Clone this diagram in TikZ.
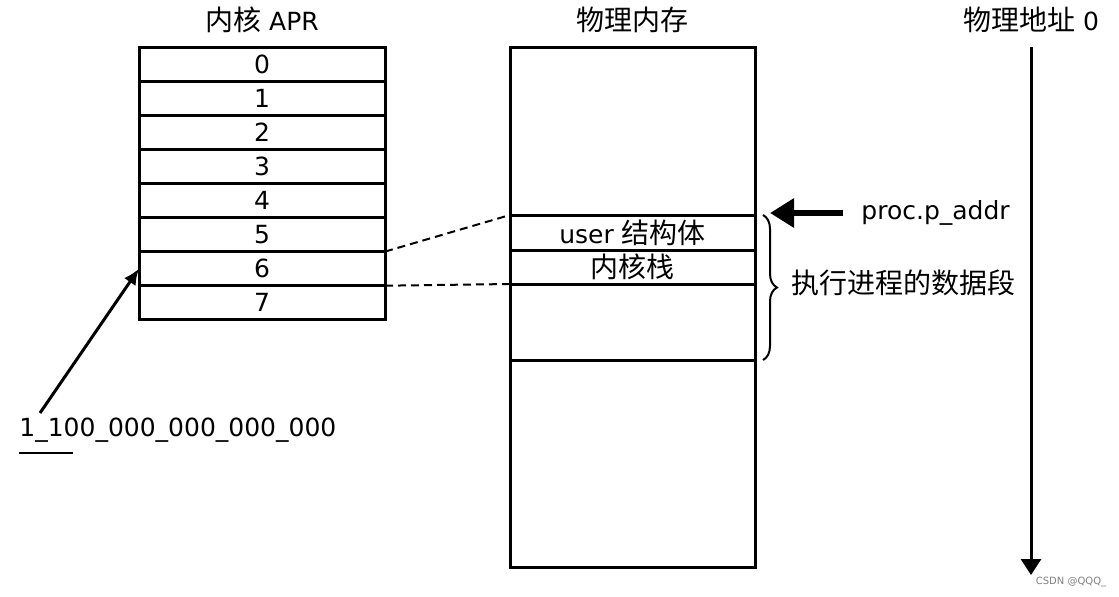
\documentclass[tikz,border=0pt]{standalone}
\usepackage{fontspec}
\setmainfont{DejaVu Sans}
\newfontfamily\cjk[Scale=1.12]{Noto Sans CJK SC}
\usetikzlibrary{arrows.meta,decorations.pathreplacing}

\begin{document}
\begin{tikzpicture}[x=0.5pt,y=-0.5pt,
    txt/.style={font=\fontsize{12.5}{14}\selectfont, inner sep=0pt},
    cell/.style={draw, line width=1.5pt, inner sep=0pt, outer sep=0pt,
                 minimum width=123pt, font=\fontsize{12.5}{14}\selectfont},
    link/.style={line width=1pt, dash pattern=on 4pt off 2.5pt}]
            \useasboundingbox (0,0) rectangle (1119,596);

            %Titles
            \node[txt] (aprtitle) at (262,20) {{\cjk 内核} APR};
            \node[txt] (memtitle) at (632,20) {\cjk 物理内存};
            \node[txt] (addr) at (1031,20) {{\cjk 物理地址} 0};

            %APR rows
            \foreach \i in {0,...,7}
                \node[cell, minimum height=17.05pt] (apr\i) at (262,{64.05+34.1*\i}) {\i};

            %Memory
            \node[cell, minimum width=122.5pt, minimum height=84pt] (memtop) at (632.5,131) {};
            \node[cell, minimum width=122.5pt, minimum height=17.5pt] (user) at (632.5,232.5) {user {\cjk 结构体}};
            \node[cell, minimum width=122.5pt, minimum height=17pt] (stack) at (632.5,267) {\cjk 内核栈};
            \node[cell, minimum width=122.5pt, minimum height=38pt] (data) at (632.5,322) {};
            \node[cell, minimum width=122.5pt, minimum height=103.5pt] (rest) at (632.5,463.5) {};

            %Labels
            \node[txt, anchor=west] (proc) at (861,213) {proc.p\_addr};
            \node[txt, anchor=west] (seg) at (791,283) {\cjk 执行进程的数据段};
            \node[txt, anchor=west] (bits) at (19,430) {1\_100\_000\_000\_000\_000};
            \node[inner sep=0pt, font=\fontsize{5}{6}\selectfont, text=gray] (mark) at (1071,582) {CSDN @QQQ\_};
            \coordinate (uaddr) at (770,213);
            \coordinate (addrend) at (1031,575);
            \coordinate (bitsarrow) at (40,413);

            %Lines
            \draw[link] (apr5.south east) -- (user.north west);
            \draw[link] (apr6.south east) -- (stack.south west);
            \draw[decorate, decoration={brace, amplitude=7pt}, line width=1pt]
                ([xshift=4pt]user.north east) -- ([xshift=4pt]data.south east);
            \draw[-{Triangle[length=12pt,width=14pt]}, line width=3pt] ([xshift=-9pt]proc.west) -- (uaddr);
            \draw[-{Triangle[length=8pt,width=10pt]}, line width=1.5pt] ([yshift=-7pt]addr.south) -- (addrend);
            \draw[-{Latex[length=8pt,width=7pt]}, line width=1.5pt] (bitsarrow) -- (apr6.west);
            \draw[line width=1pt] ([yshift=-5pt]bits.south west) -- ++(54,0);
\end{tikzpicture}
\end{document}
